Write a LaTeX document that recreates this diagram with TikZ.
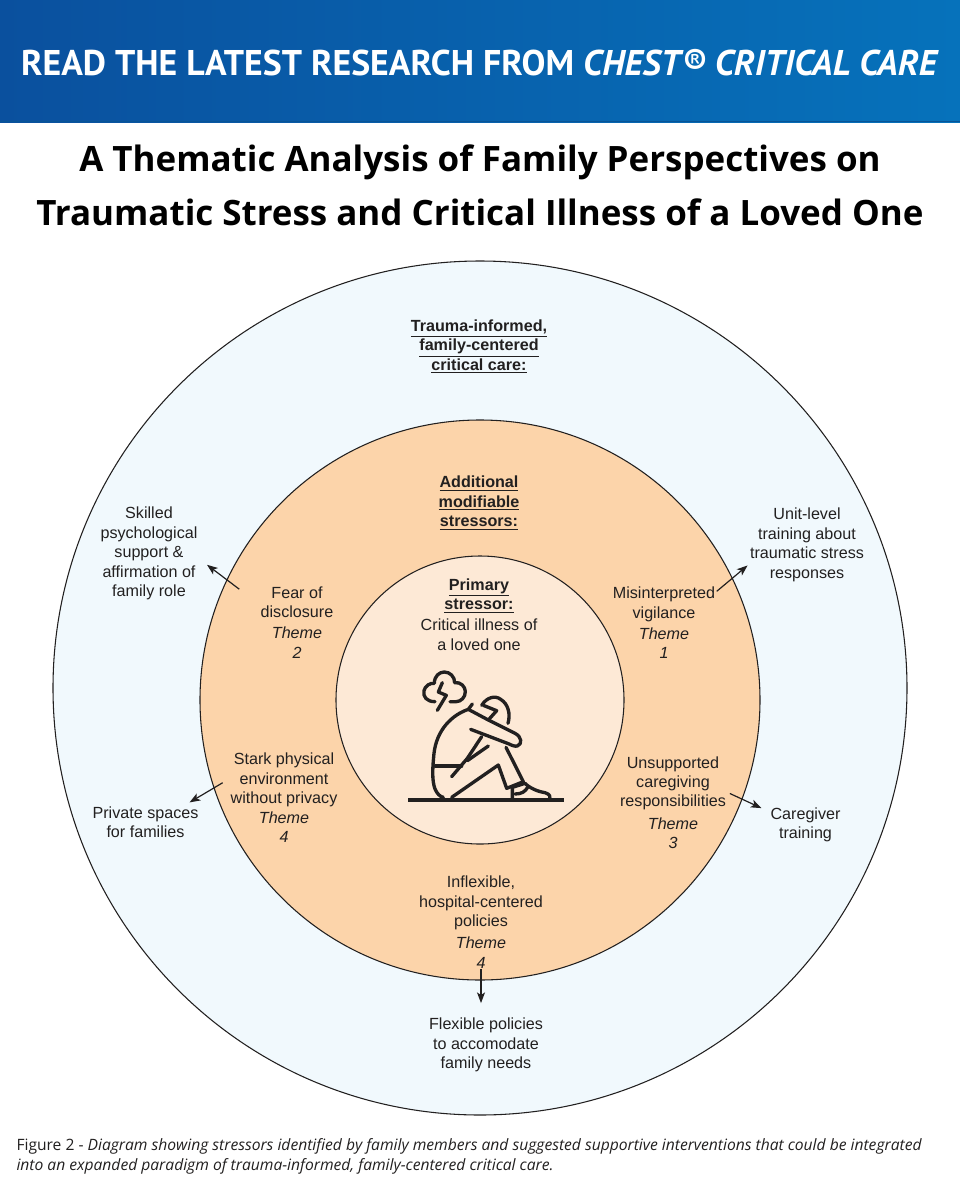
\documentclass[tikz,border=0pt]{standalone}
\usepackage{fontspec}
\setmainfont{Liberation Sans}
\newfontfamily\bannerfont{PT Sans}
\newfontfamily\titlefont{Open Sans}
\usetikzlibrary{arrows.meta}
\definecolor{bannerL}{RGB}{10,80,158}
\definecolor{bannerR}{RGB}{6,114,187}
\definecolor{bannerEdge}{RGB}{8,84,150}
\definecolor{outerFill}{RGB}{241,249,253}
\definecolor{midFill}{RGB}{252,212,170}
\definecolor{innerFill}{RGB}{253,233,214}
\definecolor{ink}{RGB}{34,32,32}
\newcommand{\hd}[1]{\underline{\textbf{#1}}}
\tikzset{every picture/.style={line width=0.75pt},
  txt/.style={align=center,inner ysep=0pt,inner xsep=0pt,text=ink,font=\fontsize{12.1}{14.6}\selectfont},
  ring/.style={draw=ink,line width=0.8pt},
  arr/.style={-{Stealth[length=8pt,width=6pt,inset=2pt]},draw=ink,line width=0.9pt},
  icon/.style={draw=ink,line width=2.5pt,line cap=round,line join=round},
  ttl/.style={anchor=base,text=black,inner sep=0pt,font=\titlefont\bfseries\fontsize{26.2}{30}\selectfont}}
\begin{document}
\begin{tikzpicture}[x=0.75pt,y=0.75pt,yscale=-1,xscale=1]
\useasboundingbox (0,0) rectangle (960,1200);
\fill [white] (0,0) rectangle (960,1200);

%Banner
\shade [left color=bannerL,right color=bannerR] (0,0) rectangle (960,122);
\fill [bannerEdge] (0,120.5) rectangle (960,122);
\node (banner) at (480,75) [anchor=base,text=white,inner sep=0pt,font=\bannerfont\bfseries\fontsize{26.8}{30}\selectfont] {READ THE LATEST RESEARCH FROM \textit{CHEST® CRITICAL CARE}};

% Title
\node (title1) at (480,171) [ttl] {A Thematic Analysis of Family Perspectives on};
\node (title2) at (480,225) [ttl] {Traumatic Stress and Critical Illness of a Loved One};

%Circles
\draw [ring,fill=outerFill] (480,688) circle (427);
\draw [ring,fill=midFill] (480,700) circle (280);
\draw [ring,fill=innerFill] (480,700) circle (144);

%Seated figure
\begin{scope}[shift={(380,640)},x=0.25pt,y=0.25pt]
\draw [draw=ink,line width=2.8pt] (85,480) -- (553,480);
%cloud
\draw [icon] (165,185) .. controls (140,185) and (128,170) .. (132,152) .. controls (135,138) and (150,128) .. (163,130) .. controls (163,108) and (178,96) .. (193,96) .. controls (210,96) and (224,110) .. (224,128) .. controls (242,125) and (256,140) .. (256,155) .. controls (256,172) and (243,185) .. (228,185) -- (210,185);
\draw [icon] (187,128) -- (175,156) -- (199,166) -- (172,211);
%head and hood
\draw [icon] (305,196) .. controls (320,172) and (345,165) .. (362,178) .. controls (385,192) and (392,222) .. (384,250);
\draw [icon] (277,192) -- (265,208) -- (325,240) -- (350,212) -- (310,196);
%back
\draw [icon] (265,208) .. controls (215,225) and (170,270) .. (162,340) .. controls (158,380) and (155,420) .. (165,447) .. controls (172,462) and (180,470) .. (190,472);
\draw [icon] (165,378) -- (245,378);
%arm
\draw [icon] (325,240) -- (405,280) .. controls (425,290) and (428,312) .. (412,318) .. controls (405,320) and (395,316) .. (385,311) -- (272,268);
\draw [icon] (305,290) -- (262,355) -- (215,410);
\draw [icon] (262,362) -- (325,318);
%leg
\draw [icon] (215,472) -- (355,375) -- (380,445) -- (430,425) -- (378,322);
%foot
\draw [icon] (397,476) -- (397,442) -- (435,430) .. controls (450,445) and (475,455) .. (495,458) .. controls (510,462) and (512,472) .. (510,478);
\draw [icon] (405,462) .. controls (425,462) and (435,455) .. (443,442);
\end{scope}

% Text Node
\node (traumaHd) at (479,346.5) [txt] {\hd{Trauma-informed,}\\\hd{family-centered}\\\hd{critical care:}};
% Text Node
\node (addHd) at (479,503) [txt] {\hd{Additional}\\\hd{modifiable}\\\hd{stressors:}};
% Text Node
\node (primary) at (479,614.5) [txt] {\hd{Primary}\\\hd{stressor:}\\[1pt]Critical illness of\\a loved one};
% Text Node
\node (fear) at (297,622.5) [txt,inner xsep=15.7pt] {Fear of\\disclosure\\[1pt]\textit{Theme}\\\textit{2}};
% Text Node
\node (skilled) at (149,553.5) [txt,inner xsep=6.8pt] {Skilled\\psychological\\support \&\\affirmation of\\family role};
% Text Node
\node (vigil) at (664,623) [txt,inner xsep=0.8pt] {Misinterpreted\\vigilance\\[1pt]\textit{Theme}\\\textit{1}};
% Text Node
\node (unit) at (807,545) [txt,inner xsep=1.5pt] {Unit-level\\training about\\traumatic stress\\responses};
% Text Node
\node (stark) at (284,798) [txt,inner xsep=5.6pt] {Stark physical\\environment\\without privacy\\\textit{Theme}\\\textit{4}};
% Text Node
\node (private) at (145.5,822) [txt,inner ysep=2.6pt] {Private spaces\\for families};
% Text Node
\node (unsup) at (673,802.5) [txt,inner xsep=2.6pt] {Unsupported\\caregiving\\responsibilities\\[2pt]\textit{Theme}\\\textit{3}};
% Text Node
\node (giver) at (805.5,825) [txt,inner xsep=6.4pt] {Caregiver\\training};
% Text Node
\node (inflex) at (481,922) [txt] {Inflexible,\\hospital-centered\\policies\\[2pt]\textit{Theme}\\\textit{4}};
% Text Node
\node (flex) at (486,1045) [txt,outer ysep=11.2pt] {Flexible policies\\to accomodate\\family needs};

%Arrows
\draw [arr] (fear.150.5) -- (skilled.-11.2);
\draw [arr] (vigil.31) -- (unit.199.6);
\draw [arr] (stark.166.4) -- (private.24.9);
\draw [arr] (unsup.9.5) -- (giver.159.6);
\draw [arr] (inflex.south) -- (inflex.south |- flex.north);

% Text Node
\node (caption) at (16,1156.5) [anchor=west,align=left,inner sep=0pt,text=ink,font=\titlefont\fontsize{11.72}{15}\selectfont] {Figure 2 - \textit{Diagram showing stressors identified by family members and suggested supportive interventions that could be integrated}\\\textit{into an expanded paradigm of trauma-informed, family-centered critical care.}};
\end{tikzpicture}
\end{document}
